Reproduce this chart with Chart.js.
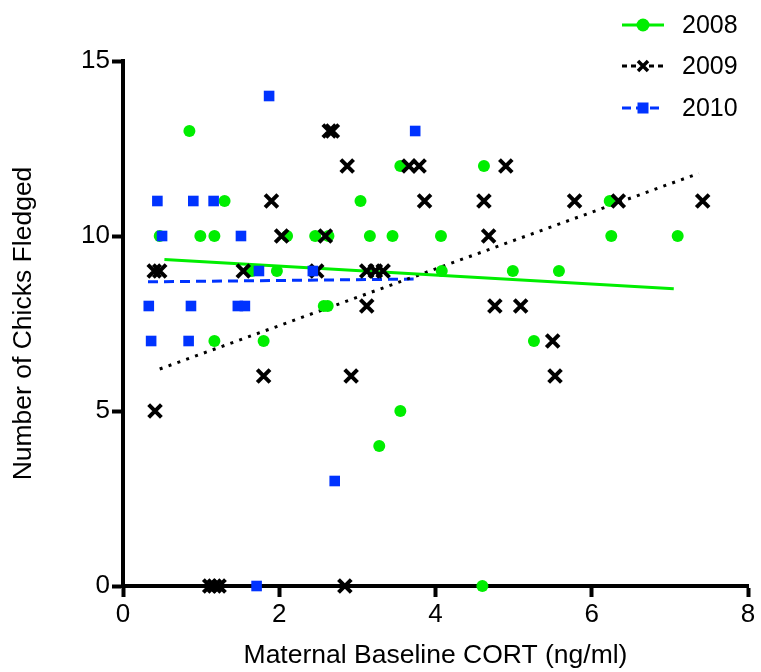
<!DOCTYPE html>
<html>
<head>
<meta charset="utf-8">
<script src="https://cdn.jsdelivr.net/npm/chart.js@4.4.1/dist/chart.umd.min.js"></script>
<style>
html,body{margin:0;padding:0;background:#fff;}
canvas{display:block;}
</style>
</head>
<body>
<canvas id="c" width="761" height="672"></canvas>
<script>
// ---- data ----
const years = ['2008', '2009', '2010'];

const x2008 = [0.47, 0.85, 1.30, 0.99, 1.17, 2.10, 2.46, 3.55, 4.62, 3.04, 2.63, 3.16, 3.45, 4.07, 6.23, 6.25, 7.10, 5.58, 4.08, 4.99, 2.57, 2.62, 5.26, 3.55, 3.28, 1.65, 1.97, 1.17, 1.80, 4.60];
const y2008 = [10,   13,   11,   10,   10,   10,   10,   12,   12,   11,   10,   10,   10,   10,   11,   10,   10,   9,    9,    9,    8,    8,    7,    5,    4,    9,    9,    7,    7,    0];

const x2009 = [1.90, 2.03, 2.59, 2.64, 2.68, 2.87, 3.66, 3.79, 4.90, 3.86, 4.62, 4.68, 5.78, 6.34, 7.42, 5.09, 0.40, 0.47, 1.54, 2.48, 1.80, 0.41, 3.12, 3.23, 3.33, 3.12, 4.76, 5.50, 5.53, 2.92, 1.11, 1.17, 1.23, 2.84];
const y2009 = [11,   10,   10,   13,   13,   12,   12,   12,   12,   11,   11,   10,   11,   11,   11,   8,    9,    9,    9,    9,    6,    5,    9,    9,    9,    8,    8,    7,    6,    6,    0,    0,    0,    0];

const x2010 = [1.87, 0.44, 0.90, 1.16, 0.50, 1.51, 3.74, 1.74, 2.43, 0.33, 0.87, 1.47, 1.56, 0.36, 0.84, 2.71, 1.71];
const y2010 = [14,   11,   11,   11,   10,   10,   13,   9,    9,    8,    8,    8,    8,    7,    7,    3,    0];

// fitted lines (end points)
const fit2008X = [0.53, 7.05];
const fit2008Y = [9.33, 8.49];
const fit2009X = [0.47, 7.37];
const fit2009Y = [6.20, 11.79];
const fit2010X = [0.32, 3.72];
const fit2010Y = [8.69, 8.77];

const xTicks = [0, 2, 4, 6, 8];
const yTicks = [0, 5, 10, 15];

const GREEN = '#00ee00';
const BLACK = '#000000';
const BLUE = '#0033ff';
const FONT = "'Liberation Sans', Arial, sans-serif";

function pts(xs, ys) { return xs.map((x, i) => ({x: x, y: ys[i]})); }

const legendPlugin = {
  id: 'customLegend',
  afterDraw(chart) {
    const ctx = chart.ctx;
    const items = [
      {label: years[0], color: GREEN, dash: [], style: 'circle', y: 25},
      {label: years[1], color: BLACK, dash: [5, 4], style: 'cross', y: 66},
      {label: years[2], color: BLUE, dash: [9, 5], style: 'rect', y: 108}
    ];
    const x0 = 622, x1 = 664, xm = 643;
    ctx.save();
    items.forEach(it => {
      ctx.strokeStyle = it.color;
      ctx.lineWidth = 3;
      ctx.setLineDash(it.dash);
      ctx.beginPath();
      ctx.moveTo(x0, it.y);
      ctx.lineTo(x1, it.y);
      ctx.stroke();
      ctx.setLineDash([]);
      if (it.style === 'circle') {
        ctx.fillStyle = it.color;
        ctx.beginPath();
        ctx.arc(xm, it.y, 6.5, 0, Math.PI * 2);
        ctx.fill();
      } else if (it.style === 'rect') {
        ctx.fillStyle = it.color;
        ctx.fillRect(xm - 5.5, it.y - 5.5, 11, 11);
      } else {
        ctx.fillStyle = '#fff';
        ctx.fillRect(xm - 6, it.y - 6, 12, 12);
        ctx.strokeStyle = it.color;
        ctx.lineWidth = 3.5;
        ctx.beginPath();
        ctx.moveTo(xm - 5, it.y - 5); ctx.lineTo(xm + 5, it.y + 5);
        ctx.moveTo(xm + 5, it.y - 5); ctx.lineTo(xm - 5, it.y + 5);
        ctx.stroke();
      }
      ctx.fillStyle = '#000';
      ctx.font = '25px ' + FONT;
      ctx.textAlign = 'left';
      ctx.textBaseline = 'middle';
      ctx.fillText(it.label, 682, it.y + 1);
    });
    ctx.restore();
  }
};

new Chart(document.getElementById('c'), {
  type: 'scatter',
  data: {
    datasets: [
      {label: years[2], data: pts(x2010, y2010), pointStyle: 'rect', pointRadius: 7.5, pointHoverRadius: 7.5,
       backgroundColor: BLUE, borderColor: BLUE, borderWidth: 0, clip: false, order: 1},
      {label: years[1], data: pts(x2009, y2009), pointStyle: 'crossRot', pointRadius: 9, pointHoverRadius: 9,
       backgroundColor: BLACK, borderColor: BLACK, borderWidth: 4, clip: false, order: 2},
      {label: years[0], data: pts(x2008, y2008), pointStyle: 'circle', pointRadius: 6, pointHoverRadius: 6,
       backgroundColor: GREEN, borderColor: GREEN, borderWidth: 0, clip: false, order: 3},
      {label: 'fit ' + years[0], data: pts(fit2008X, fit2008Y), showLine: true, pointRadius: 0,
       borderColor: GREEN, borderWidth: 3, clip: false, order: 4},
      {label: 'fit ' + years[1], data: pts(fit2009X, fit2009Y), showLine: true, pointRadius: 0,
       borderColor: BLACK, borderWidth: 3, borderDash: [3, 6.4], clip: false, order: 5},
      {label: 'fit ' + years[2], data: pts(fit2010X, fit2010Y), showLine: true, pointRadius: 0,
       borderColor: BLUE, borderWidth: 3, borderDash: [10, 6], clip: false, order: 6}
    ]
  },
  options: {
    responsive: false,
    animation: false,
    events: [],
    layout: {padding: {top: 61, right: 10, left: 0, bottom: 0}},
    plugins: {legend: {display: false}, tooltip: {enabled: false}},
    scales: {
      x: {
        type: 'linear', min: 0, max: 8,
        afterBuildTicks: s => { s.ticks = xTicks.map(v => ({value: v})); },
        afterFit: s => { s.height = 86; },
        grid: {drawOnChartArea: false, drawTicks: true, tickLength: 11, tickWidth: 4, tickColor: '#000'},
        border: {display: true, width: 4, color: '#000'},
        ticks: {color: '#000', font: {family: FONT, size: 26}, padding: 2, maxRotation: 0},
        title: {display: true, text: 'Maternal Baseline CORT (ng/ml)', color: '#000',
                font: {family: FONT, size: 26.5}, padding: {top: 0, bottom: 0}}
      },
      y: {
        type: 'linear', min: 0, max: 15,
        afterBuildTicks: s => { s.ticks = yTicks.map(v => ({value: v})); },
        afterFit: s => { s.width = 123; },
        grid: {drawOnChartArea: false, drawTicks: true, tickLength: 11, tickWidth: 4, tickColor: '#000'},
        border: {display: true, width: 4, color: '#000'},
        ticks: {color: '#000', font: {family: FONT, size: 26}, padding: 2},
        title: {display: true, text: 'Number of Chicks Fledged', color: '#000',
                font: {family: FONT, size: 26.5}, padding: {top: 8, bottom: 0}}
      }
    }
  },
  plugins: [legendPlugin]
});
</script>
</body>
</html>
